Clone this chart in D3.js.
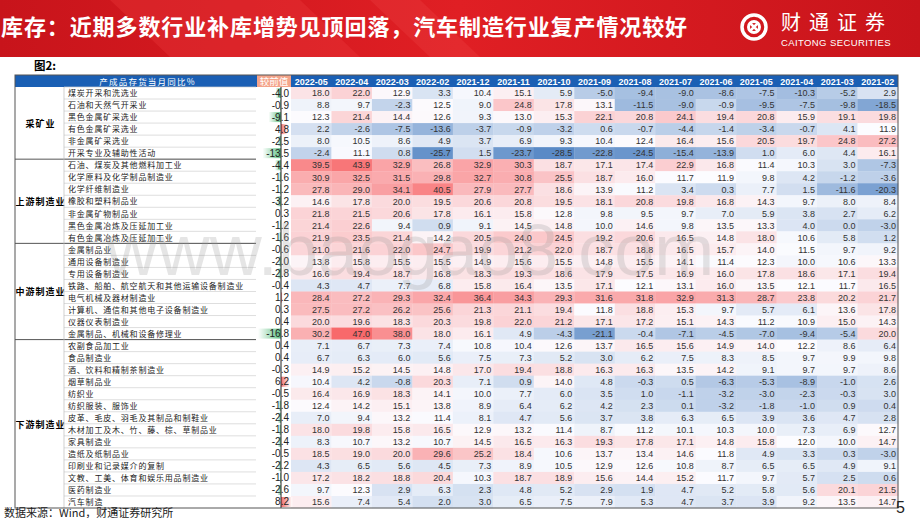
<!DOCTYPE html>
<html><head><meta charset="utf-8">
<script src="https://cdn.jsdelivr.net/npm/d3@7"></script>
<style>body{margin:0;background:#fff}svg{display:block}</style></head>
<body><svg id="c" width="920" height="518"></svg>
<script>
const columns=["2022-05","2022-04","2022-03","2022-02","2021-12","2021-11","2021-10","2021-09","2021-08","2021-07","2021-06","2021-05","2021-04","2021-03","2021-02"];
const groups=[["采矿业",6],["上游制造业",7],["中游制造业",8],["下游制造业",14]];
const industries=["煤炭开采和洗选业","石油和天然气开采业","黑色金属矿采选业","有色金属矿采选业","非金属矿采选业","开采专业及辅助性活动","石油、煤炭及其他燃料加工业","化学原料及化学制品制造业","化学纤维制造业","橡胶和塑料制品业","非金属矿物制品业","黑色金属冶炼及压延加工业","有色金属冶炼及压延加工业","金属制品业","通用设备制造业","专用设备制造业","铁路、船舶、航空航天和其他运输设备制造业","电气机械及器材制造业","计算机、通信和其他电子设备制造业","仪器仪表制造业","金属制品、机械和设备修理业","农副食品加工业","食品制造业","酒、饮料和精制茶制造业","烟草制品业","纺织业","纺织服装、服饰业","皮革、毛皮、羽毛及其制品和制鞋业","木材加工及木、竹、藤、棕、草制品业","家具制造业","造纸及纸制品业","印刷业和记录媒介的复制","文教、工美、体育和娱乐用品制造业","医药制造业","汽车制造"];
const change=[-4.0,-0.9,-9.1,4.8,-2.5,-13.5,-4.4,-1.6,-1.2,-3.2,0.3,-1.2,-1.6,-0.6,-2.0,-2.8,-0.4,1.2,0.3,0.4,-16.8,0.4,0.4,-0.3,6.2,-0.5,-1.8,-2.4,-1.8,-2.4,-0.5,-2.2,-1.0,-2.6,8.2];
const values=[
[18.0,22.0,12.9,3.3,10.4,15.1,5.9,-5.0,-9.4,-9.0,-8.6,-7.5,-10.3,-5.2,2.9],
[8.8,9.7,-2.3,12.5,9.0,24.8,17.8,13.1,-11.5,-9.0,-0.9,-9.5,-7.5,-9.8,-18.5],
[12.3,21.4,14.4,12.6,9.3,13.0,15.3,22.1,20.8,24.1,19.4,20.8,15.9,19.1,19.8],
[2.2,-2.6,-7.5,-13.6,-3.7,-0.9,-3.2,0.6,-0.7,-4.4,-1.4,-3.4,-0.7,4.1,11.9],
[8.0,10.5,8.6,4.9,3.7,6.9,9.3,10.4,12.4,16.4,15.6,20.5,19.7,24.8,27.2],
[-2.4,11.1,0.8,-25.7,1.5,-23.7,-28.5,-22.8,-24.5,-15.4,-13.9,1.0,6.0,4.4,16.1],
[39.5,43.9,32.9,26.8,32.9,30.3,18.7,17.1,17.4,22.9,16.8,11.4,10.3,3.0,-7.3],
[30.9,32.5,31.5,29.8,32.7,30.8,25.5,18.7,16.0,11.7,11.9,9.8,4.2,-1.2,-3.6],
[27.8,29.0,34.1,40.5,27.9,27.7,18.6,13.9,11.2,3.4,0.3,7.7,1.5,-11.6,-20.3],
[14.6,17.8,20.0,19.5,20.6,20.8,19.5,18.1,20.8,19.8,16.8,14.3,9.7,8.0,8.4],
[21.8,21.5,20.6,17.8,16.1,15.8,12.8,9.8,9.5,9.7,7.0,5.9,3.8,2.7,6.2],
[21.4,22.6,9.4,0.9,9.1,14.5,14.8,10.0,14.6,9.8,13.5,13.3,4.0,0.0,-3.0],
[21.9,23.5,21.4,14.2,20.5,24.0,24.5,19.2,20.6,16.5,14.8,18.0,10.6,5.8,1.2],
[21.0,21.6,22.0,24.7,19.9,21.2,22.0,18.7,18.8,16.5,15.7,14.0,11.5,9.7,9.2],
[13.8,15.8,15.5,15.5,14.9,15.6,15.5,14.8,15.5,14.1,11.4,12.3,10.0,10.6,13.3],
[16.6,19.4,18.7,16.8,18.3,19.3,18.6,17.9,17.5,16.9,16.0,17.8,18.6,17.1,19.4],
[4.3,4.7,7.7,6.8,15.8,16.4,13.5,17.1,12.1,13.1,16.0,13.5,12.1,11.7,16.5],
[28.4,27.2,29.3,32.4,36.4,34.3,29.3,31.6,31.8,32.9,31.3,28.7,23.8,20.2,21.7],
[27.5,27.2,26.2,25.6,21.3,21.1,19.4,11.8,18.8,15.3,9.7,5.7,6.1,13.6,17.8],
[20.0,19.6,18.3,20.3,19.8,22.0,21.2,17.1,17.2,15.1,14.3,11.2,10.9,15.0,14.3],
[30.2,47.0,38.0,18.0,16.1,4.9,-4.3,-21.1,-0.4,-7.1,-4.5,-7.0,-9.4,-5.4,20.0],
[7.1,6.7,7.3,7.4,10.8,10.4,12.6,13.7,16.5,15.6,14.9,14.0,12.2,8.6,6.4],
[6.7,6.3,6.0,5.6,7.5,7.3,5.2,3.0,6.2,7.5,8.3,8.5,9.7,9.9,9.8],
[14.9,15.2,14.5,14.8,17.0,19.4,18.8,16.3,16.3,13.5,14.2,9.1,9.7,9.7,8.6],
[10.4,4.2,-0.8,20.3,7.1,0.9,14.0,4.8,-0.3,0.5,-6.3,-5.3,-8.9,-1.0,2.6],
[16.4,16.9,18.3,14.1,10.0,7.7,6.0,3.5,1.0,-1.1,-3.2,-3.0,-2.3,-0.3,3.0],
[12.4,14.2,15.1,13.8,8.9,6.4,6.2,4.2,2.3,0.1,-3.2,-1.8,-1.0,0.9,0.4],
[7.0,9.4,13.2,11.4,8.1,4.7,5.6,3.7,3.8,6.3,6.5,3.9,3.6,4.7,2.8],
[18.0,19.8,15.8,16.5,12.9,13.2,11.4,8.7,11.2,10.1,10.3,10.0,7.3,6.9,12.7],
[8.3,10.7,13.2,10.7,14.5,16.5,16.3,19.3,17.8,17.1,14.8,15.8,12.0,10.0,14.7],
[18.5,19.0,20.0,29.6,25.2,18.4,10.6,13.7,13.4,14.6,11.8,4.9,3.3,0.3,-3.0],
[4.3,6.5,5.6,4.5,7.3,8.9,10.5,12.9,12.6,10.8,8.7,6.5,6.5,4.9,9.1],
[17.2,18.2,18.8,20.4,10.3,18.7,18.9,15.6,14.4,15.2,11.7,9.7,5.7,2.5,0.6],
[9.7,12.3,2.9,6.3,2.3,4.8,5.2,2.9,1.9,4.7,5.2,5.8,5.6,20.1,21.5],
[15.6,7.4,5.4,2.0,3.0,6.5,7.5,7.9,5.3,4.7,3.7,3.9,9.2,13.5,14.7]];

const svg=d3.select("#c");
const cn="'Noto Sans CJK SC',sans-serif";
const num="'Liberation Sans',Arial,sans-serif";
const defs=svg.append("defs");
const bg=defs.append("linearGradient").attr("id","bg").attr("x1",0).attr("x2",1);
bg.append("stop").attr("offset",0).attr("stop-color","#c8141b");
bg.append("stop").attr("offset",0.5).attr("stop-color","#e01f24");
bg.append("stop").attr("offset",1).attr("stop-color","#c8141b");
const gg=defs.append("linearGradient").attr("id","gn").attr("x1",0).attr("x2",1);
gg.append("stop").attr("offset",0).attr("stop-color","#ffffff");
gg.append("stop").attr("offset",1).attr("stop-color","#5fc083");
const rg=defs.append("linearGradient").attr("id","rd").attr("x1",0).attr("x2",1);
rg.append("stop").attr("offset",0).attr("stop-color","#f06a6a");
rg.append("stop").attr("offset",1).attr("stop-color","#ffffff");

svg.append("rect").attr("width",920).attr("height",57).attr("fill","url(#bg)");
svg.append("polygon").attr("points","110,0 300,0 360,57 170,57").attr("fill","#ea3a3c").attr("opacity",0.35);
svg.append("polygon").attr("points","370,0 420,0 480,57 430,57").attr("fill","#f04a4a").attr("opacity",0.25);
svg.append("text").attr("x",1).attr("y",35).attr("fill","#fff").attr("font-family",cn).attr("font-weight",700).attr("font-size",22).attr("letter-spacing",0.9)
 .text("库存：近期多数行业补库增势见顶回落，汽车制造行业复产情况较好");
const lg=svg.append("g").attr("transform","translate(754,27)");
lg.append("circle").attr("r",12).attr("fill","none").attr("stroke","#fff").attr("stroke-width",3.5);
lg.append("circle").attr("r",5.5).attr("fill","none").attr("stroke","#fff").attr("stroke-width",3);
lg.append("path").attr("d","M-4,-4L4,4M4,-4L-4,4").attr("stroke","#fff").attr("stroke-width",2.5);
svg.append("text").attr("x",781).attr("y",30).attr("fill","#fff").attr("font-family",cn).attr("font-size",20).attr("letter-spacing",8).text("财通证券");
svg.append("text").attr("x",781).attr("y",46).attr("fill","#fff").attr("font-family",num).attr("font-size",9.5).attr("letter-spacing",0.4).text("CAITONG SECURITIES");

svg.append("text").attr("x",34).attr("y",70).attr("font-family",cn).attr("font-weight",700).attr("font-size",11.5).text("图2:");

const X0=15,Xg=64,Xn=256,Xd0=257,Xd1=291,X1=898,Y0=75,Yh=87,Y1=508;
const x=d3.scaleBand().domain(columns).range([Xd1,X1]);
const y=d3.scaleBand().domain(industries).range([Yh,Y1]);
const all=values.flat();
const color=d3.scaleLinear().domain([d3.min(all),d3.median(all),d3.max(all)]).range(["#5a8ac6","#fcfcff","#f8696b"]);
const dx=d3.scaleLinear().domain([-16.8,0]).range([Xd0+1,281]);

svg.append("rect").attr("x",X0).attr("y",Y0).attr("width",X1-X0).attr("height",Yh-Y0).attr("fill","#1a5fb4");
svg.append("rect").attr("x",Xd0).attr("y",Y0).attr("width",Xd1-Xd0).attr("height",Yh-Y0).attr("fill","#f4a48a");
svg.append("text").attr("x",(X0+Xn)/2+12).attr("y",Y0+9.5).attr("text-anchor","middle").attr("fill","#fff").attr("font-family",cn).attr("font-size",8.5).attr("letter-spacing",1.2).text("产成品存货当月同比%");
svg.append("text").attr("x",(Xd0+Xd1)/2).attr("y",Y0+9.5).attr("text-anchor","middle").attr("fill","#fff").attr("font-family",cn).attr("font-size",9.5).text("较前值");
svg.selectAll("text.hd").data(columns).join("text").attr("class","hd")
 .attr("x",d=>x(d)+x.bandwidth()/2).attr("y",Y0+9.5).attr("text-anchor","middle").attr("fill","#fff")
 .attr("font-family",num).attr("font-weight",700).attr("font-size",9).text(d=>d);

const rows=svg.append("g");
industries.forEach((ind,i)=>{
  const cells=values[i].map((v,j)=>({v,c:columns[j]}));
  rows.selectAll(null).data(cells).join("rect")
   .attr("x",d=>x(d.c)).attr("y",y(ind)).attr("width",x.bandwidth()+0.3).attr("height",y.bandwidth()+0.3).attr("fill",d=>color(d.v));
  rows.selectAll(null).data(cells).join("text")
   .attr("x",d=>x(d.c)+x.bandwidth()-2).attr("y",y(ind)+y.bandwidth()/2+3.3).attr("text-anchor","end")
   .attr("font-family",num).attr("font-size",9).attr("fill","#333").text(d=>d.v.toFixed(1));
});
svg.selectAll("rect.db").data(change).join("rect").attr("class","db")
 .attr("x",d=>d<0?dx(d):dx(0)).attr("width",d=>Math.abs(dx(d)-dx(0)))
 .attr("y",(d,i)=>y(industries[i])+1).attr("height",y.bandwidth()-2)
 .attr("fill",d=>d<0?"url(#gn)":"url(#rd)");
svg.append("line").attr("x1",dx(0)).attr("x2",dx(0)).attr("y1",Yh).attr("y2",Y1).attr("stroke","#222").attr("stroke-width",1);
svg.selectAll("text.dt").data(change).join("text").attr("class","dt")
 .attr("x",Xd1-2).attr("y",(d,i)=>y(industries[i])+y.bandwidth()/2+3.5).attr("text-anchor","end")
 .attr("font-family",num).attr("font-size",10).attr("fill","#222").text(d=>d.toFixed(1));

svg.selectAll("line.rl").data(industries).join("line").attr("class","rl")
 .attr("x1",Xg).attr("x2",Xn).attr("y1",d=>y(d)).attr("y2",d=>y(d)).attr("stroke","#d0d0d0").attr("stroke-width",0.7);
svg.selectAll("text.nm").data(industries).join("text").attr("class","nm")
 .attr("x",Xg+4).attr("y",d=>y(d)+y.bandwidth()/2+3.2).attr("font-family",cn).attr("font-size",8).attr("fill","#222").attr("letter-spacing",0.8).text(d=>d);
let acc=0;
groups.forEach(([g,n],k)=>{
  const yt=y(industries[acc]), yb=y(industries[acc+n-1])+y.bandwidth();
  if(k>0) svg.append("line").attr("x1",X0).attr("x2",Xn).attr("y1",yt).attr("y2",yt).attr("stroke","#555").attr("stroke-width",1);
  svg.append("text").attr("x",(X0+Xg)/2+1).attr("y",(yt+yb)/2+4).attr("text-anchor","middle").attr("font-family",cn).attr("font-weight",700).attr("font-size",9).attr("letter-spacing",1).text(g);
  acc+=n;
});
svg.append("line").attr("x1",Xg).attr("x2",Xg).attr("y1",Yh).attr("y2",Y1).attr("stroke","#bbb").attr("stroke-width",0.7);
svg.append("rect").attr("x",X0).attr("y",Y0).attr("width",X1-X0).attr("height",Y1-Y0).attr("fill","none").attr("stroke","#555").attr("stroke-width",1);

svg.append("text").attr("x",410).attr("y",275).attr("text-anchor","middle").attr("font-family",num).attr("font-size",72).attr("fill","#999").attr("opacity",0.25).text("www.baogao8.com");

svg.append("text").attr("x",4).attr("y",517).attr("font-family",cn).attr("font-size",11).attr("fill","#222").text("数据来源：Wind，财通证券研究所");
svg.append("text").attr("x",896).attr("y",513).attr("font-family",num).attr("font-size",16).attr("fill","#222").text("5");
</script></body></html>
